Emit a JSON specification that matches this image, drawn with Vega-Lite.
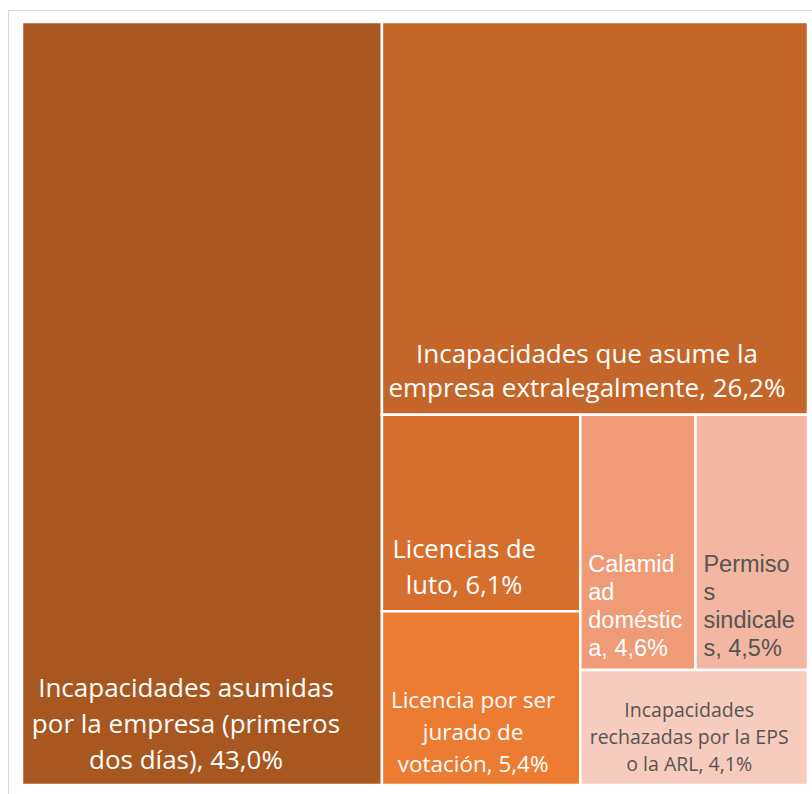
{
  "$schema": "https://vega.github.io/schema/vega-lite/v6.json",
  "width": 812,
  "height": 794,
  "autosize": {"type": "fit", "contains": "padding"},
  "padding": {"left": 8, "top": 10, "right": -3, "bottom": -3},
  "background": "white",
  "config": {"view": {"stroke": "#D9D9D9", "strokeWidth": 1}},
  "data": {
    "values": [
      {"name": "Incapacidades asumidas por la empresa (primeros dos días)", "label": "Incapacidades asumidas\npor la empresa (primeros\ndos días), 43,0%", "value": 43.0, "g1": "A", "g2": "A", "g3": "A", "g4": "A", "part": "first"},
      {"name": "Incapacidades que asume la empresa extralegalmente", "label": "Incapacidades que asume la\nempresa extralegalmente, 26,2%", "value": 26.2, "g1": "B", "g2": "T", "g3": "T", "g4": "T", "part": "first"},
      {"name": "Licencias de luto", "label": "Licencias de\nluto, 6,1%", "value": 6.1, "g1": "B", "g2": "Bo", "g3": "L", "g4": "L", "part": "first"},
      {"name": "Licencia por ser jurado de votación", "label": "Licencia por ser\njurado de\nvotación, 5,4%", "value": 5.4, "g1": "B", "g2": "Bo", "g3": "L", "g4": "L", "part": "last"},
      {"name": "Calamidad doméstica", "label": "Calamid\nad\ndoméstic\na, 4,6%", "value": 4.6, "g1": "B", "g2": "Bo", "g3": "R", "g4": "U", "part": "first"},
      {"name": "Permisos sindicales", "label": "Permiso\ns\nsindicale\ns, 4,5%", "value": 4.5, "g1": "B", "g2": "Bo", "g3": "R", "g4": "U", "part": "last"},
      {"name": "Incapacidades rechazadas por la EPS o la ARL", "label": "Incapacidades\nrechazadas por la EPS\no la ARL, 4,1%", "value": 4.1, "g1": "B", "g2": "Bo", "g3": "R", "g4": "D", "part": "first"}
    ]
  },
  "transform": [
    {"joinaggregate": [{"op": "sum", "field": "value", "as": "total"}]},
    {"joinaggregate": [{"op": "sum", "field": "value", "as": "s1"}], "groupby": ["g1"]},
    {"joinaggregate": [{"op": "sum", "field": "value", "as": "s2"}], "groupby": ["g1", "g2"]},
    {"joinaggregate": [{"op": "sum", "field": "value", "as": "s3"}], "groupby": ["g1", "g2", "g3"]},
    {"joinaggregate": [{"op": "sum", "field": "value", "as": "s4"}], "groupby": ["g1", "g2", "g3", "g4"]},
    {"calculate": "1 - datum.s1 / datum.total", "as": "bx0"},
    {"calculate": "1 - (1 - datum.bx0) * datum.s3 / datum.s2", "as": "rx0"},
    {"calculate": "1 - datum.s2 / datum.s1", "as": "by0"},
    {"calculate": "datum.g1 == 'A' ? 0 : (datum.g3 == 'R' ? ((datum.g4 == 'U' && datum.part == 'last') ? 1 - (1 - datum.rx0) * datum.value / datum.s4 : datum.rx0) : datum.bx0)", "as": "x0"},
    {"calculate": "datum.g1 == 'A' ? datum.s1 / datum.total : (datum.g3 == 'L' ? datum.bx0 + (1 - datum.bx0) * datum.s3 / datum.s2 : ((datum.g4 == 'U' && datum.part == 'first') ? datum.rx0 + (1 - datum.rx0) * datum.value / datum.s4 : 1))", "as": "x1"},
    {"calculate": "(datum.g1 == 'A' || datum.g2 == 'T') ? 0 : (datum.g3 == 'L' ? (datum.part == 'first' ? datum.by0 : 1 - (1 - datum.by0) * datum.value / datum.s3) : (datum.g4 == 'U' ? datum.by0 : 1 - (1 - datum.by0) * datum.s4 / datum.s3))", "as": "y0"},
    {"calculate": "datum.g1 == 'A' ? 1 : (datum.g2 == 'T' ? datum.s2 / datum.s1 : (datum.g3 == 'L' ? (datum.part == 'first' ? datum.by0 + (1 - datum.by0) * datum.value / datum.s3 : 1) : (datum.g4 == 'U' ? datum.by0 + (1 - datum.by0) * datum.s4 / datum.s3 : 1)))", "as": "y1"},
    {"calculate": "(datum.x0 + datum.x1) / 2", "as": "xc"}
  ],
  "layer": [
    {
      "mark": {"type": "rect", "stroke": "white", "strokeWidth": 2.5},
      "encoding": {
        "x": {"field": "x0", "type": "quantitative", "scale": {"domain": [-0.017812, 1.00891], "nice": false, "zero": false}, "axis": null},
        "x2": {"field": "x1"},
        "y": {"field": "y0", "type": "quantitative", "scale": {"domain": [-0.015727, 1.015728], "nice": false, "zero": false, "reverse": true}, "axis": null},
        "y2": {"field": "y1"},
        "color": {
          "field": "name", "type": "nominal", "legend": null,
          "scale": {
            "domain": ["Incapacidades asumidas por la empresa (primeros dos días)", "Incapacidades que asume la empresa extralegalmente", "Licencias de luto", "Licencia por ser jurado de votación", "Calamidad doméstica", "Permisos sindicales", "Incapacidades rechazadas por la EPS o la ARL"],
            "range": ["#A85721", "#C4662A", "#D66F2D", "#EC7C31", "#EF9B78", "#F3B6A1", "#F7CBBD"]
          }
        }
      }
    },
    {
      "transform": [{"filter": "datum.g1 == 'A'"}],
      "mark": {"type": "text", "align": "center", "baseline": "alphabetic", "lineBreak": "\n", "font": "Open Sans", "fontSize": 26, "lineHeight": 36, "color": "white", "dx": -16, "dy": -88},
      "encoding": {
        "x": {"field": "xc", "type": "quantitative", "scale": {"domain": [-0.017812, 1.00891], "nice": false, "zero": false}, "axis": null},
        "y": {"field": "y1", "type": "quantitative", "scale": {"domain": [-0.015727, 1.015728], "nice": false, "zero": false, "reverse": true}, "axis": null},
        "text": {"field": "label"}
      }
    },
    {
      "transform": [{"filter": "datum.g2 == 'T'"}],
      "mark": {"type": "text", "align": "center", "baseline": "alphabetic", "lineBreak": "\n", "font": "Open Sans", "fontSize": 26, "lineHeight": 34, "color": "white", "dx": -8, "dy": -52},
      "encoding": {
        "x": {"field": "xc", "type": "quantitative", "scale": {"domain": [-0.017812, 1.00891], "nice": false, "zero": false}, "axis": null},
        "y": {"field": "y1", "type": "quantitative", "scale": {"domain": [-0.015727, 1.015728], "nice": false, "zero": false, "reverse": true}, "axis": null},
        "text": {"field": "label"}
      }
    },
    {
      "transform": [{"filter": "datum.name == 'Licencias de luto'"}],
      "mark": {"type": "text", "align": "center", "baseline": "alphabetic", "lineBreak": "\n", "font": "Open Sans", "fontSize": 25.5, "lineHeight": 36, "color": "white", "dx": -17, "dy": -53},
      "encoding": {
        "x": {"field": "xc", "type": "quantitative", "scale": {"domain": [-0.017812, 1.00891], "nice": false, "zero": false}, "axis": null},
        "y": {"field": "y1", "type": "quantitative", "scale": {"domain": [-0.015727, 1.015728], "nice": false, "zero": false, "reverse": true}, "axis": null},
        "text": {"field": "label"}
      }
    },
    {
      "transform": [{"filter": "datum.name == 'Licencia por ser jurado de votación'"}],
      "mark": {"type": "text", "align": "center", "baseline": "alphabetic", "lineBreak": "\n", "font": "Open Sans", "fontSize": 22.5, "lineHeight": 32, "color": "white", "dx": -8, "dy": -77},
      "encoding": {
        "x": {"field": "xc", "type": "quantitative", "scale": {"domain": [-0.017812, 1.00891], "nice": false, "zero": false}, "axis": null},
        "y": {"field": "y1", "type": "quantitative", "scale": {"domain": [-0.015727, 1.015728], "nice": false, "zero": false, "reverse": true}, "axis": null},
        "text": {"field": "label"}
      }
    },
    {
      "transform": [{"filter": "datum.g4 == 'D'"}],
      "mark": {"type": "text", "align": "center", "baseline": "alphabetic", "lineBreak": "\n", "font": "Open Sans", "fontSize": 19.5, "lineHeight": 27, "color": "#555555", "dx": -5, "dy": -68},
      "encoding": {
        "x": {"field": "xc", "type": "quantitative", "scale": {"domain": [-0.017812, 1.00891], "nice": false, "zero": false}, "axis": null},
        "y": {"field": "y1", "type": "quantitative", "scale": {"domain": [-0.015727, 1.015728], "nice": false, "zero": false, "reverse": true}, "axis": null},
        "text": {"field": "label"}
      }
    },
    {
      "transform": [{"filter": "datum.g4 == 'U'"}],
      "mark": {"type": "text", "align": "left", "baseline": "alphabetic", "lineBreak": "\n", "font": "Liberation Sans", "fontSize": 23.5, "lineHeight": 28, "dx": 8, "dy": -98},
      "encoding": {
        "x": {"field": "x0", "type": "quantitative", "scale": {"domain": [-0.017812, 1.00891], "nice": false, "zero": false}, "axis": null},
        "y": {"field": "y1", "type": "quantitative", "scale": {"domain": [-0.015727, 1.015728], "nice": false, "zero": false, "reverse": true}, "axis": null},
        "text": {"field": "label"},
        "color": {"condition": {"test": "datum.part == 'first'", "value": "white"}, "value": "#555555"}
      }
    }
  ]
}
